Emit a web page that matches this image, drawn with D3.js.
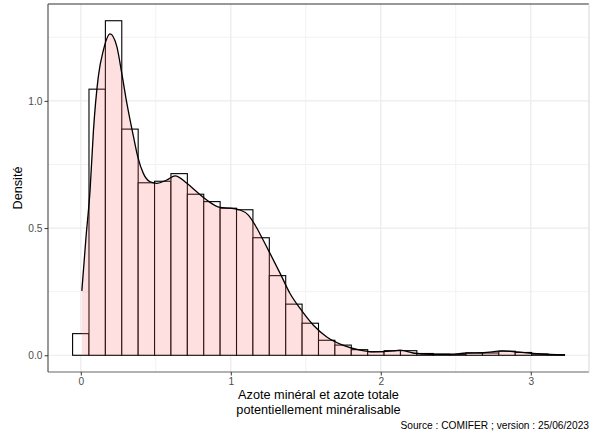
<!DOCTYPE html>
<html>
<head>
<meta charset="utf-8">
<script src="https://cdn.jsdelivr.net/npm/d3@7"></script>
<style>
  body { margin: 0; background: #fff; }
  svg { display: block; font-family: "Liberation Sans", Arial, sans-serif; }
</style>
</head>
<body>
<svg id="chart" width="594" height="435"></svg>
<script>
// histogram: 30 bins, regular width
const binStart = -0.0547;
const binWidth = 0.1093;
const binDensity = [0.085, 1.046, 1.315, 0.889, 0.678, 0.684, 0.714, 0.633, 0.604, 0.578,
                    0.572, 0.462, 0.313, 0.201, 0.126, 0.059, 0.040, 0.022, 0.014, 0.018,
                    0.018, 0.007, 0.004, 0.003, 0.009, 0.009, 0.016, 0.011, 0.005, 0.002];

// density curve
const densX = [0.007, 0.035, 0.062, 0.084, 0.117, 0.151, 0.195, 0.24, 0.273, 0.307,
               0.351, 0.38, 0.417, 0.462, 0.507, 0.573, 0.629, 0.707, 0.773, 0.84,
               0.929, 0.995, 1.062, 1.117, 1.162, 1.207, 1.262, 1.329, 1.395, 1.462,
               1.551, 1.64, 1.751, 1.862, 1.951, 2.084, 2.129, 2.215, 2.329, 2.462,
               2.573, 2.682, 2.815, 2.907, 3.015, 3.129, 3.229];
const densY = [0.253, 0.466, 0.65, 0.88, 1.096, 1.2, 1.263, 1.214, 1.109, 0.991,
               0.86, 0.78, 0.715, 0.682, 0.676, 0.689, 0.705, 0.676, 0.643, 0.61,
               0.581, 0.578, 0.571, 0.551, 0.512, 0.463, 0.4, 0.322, 0.243, 0.184,
               0.118, 0.072, 0.039, 0.02, 0.013, 0.017, 0.02, 0.009, 0.004, 0.004,
               0.009, 0.010, 0.017, 0.013, 0.007, 0.003, 0.001];

const xTicks = [0, 1, 2, 3];
const xMinor = [0.5, 1.5, 2.5];
const yTicks = [0, 0.5, 1.0];
const yMinor = [0.25, 0.75, 1.25];

const xTitle = ["Azote minéral et azote totale", "potentiellement minéralisable"];
const yTitle = "Densité";
const caption = "Source : COMIFER ; version : 25/06/2023";

const svg = d3.select("#chart");
const panel = {left: 48, top: 4, right: 589, bottom: 372};

const bins = binDensity.map((d, i) => ({x0: binStart + i * binWidth, x1: binStart + (i + 1) * binWidth, y: d}));

// ggplot style 5% expansion
const xLo = bins[0].x0, xHi = bins[bins.length - 1].x1;
const xPad = (xHi - xLo) * 0.05;
const yMax = d3.max(binDensity);
const x = d3.scaleLinear().domain([xLo - xPad, xHi + xPad]).range([panel.left, panel.right]);
const y = d3.scaleLinear().domain([-yMax * 0.05, yMax * 1.05]).range([panel.bottom, panel.top]);

const g = svg.append("g");

// grid
g.selectAll(".minx").data(xMinor).enter().append("line")
    .attr("x1", d => x(d)).attr("x2", d => x(d))
    .attr("y1", panel.top).attr("y2", panel.bottom)
    .attr("stroke", "#f2f2f2").attr("stroke-width", 1);
g.selectAll(".miny").data(yMinor).enter().append("line")
    .attr("y1", d => y(d)).attr("y2", d => y(d))
    .attr("x1", panel.left).attr("x2", panel.right)
    .attr("stroke", "#f2f2f2").attr("stroke-width", 1);
g.selectAll(".majx").data(xTicks).enter().append("line")
    .attr("x1", d => x(d)).attr("x2", d => x(d))
    .attr("y1", panel.top).attr("y2", panel.bottom)
    .attr("stroke", "#ebebeb").attr("stroke-width", 1.2);
g.selectAll(".majy").data(yTicks).enter().append("line")
    .attr("y1", d => y(d)).attr("y2", d => y(d))
    .attr("x1", panel.left).attr("x2", panel.right)
    .attr("stroke", "#ebebeb").attr("stroke-width", 1.2);

// histogram bars
g.selectAll(".bar").data(bins).enter().append("rect")
    .attr("x", d => x(d.x0))
    .attr("width", d => x(d.x1) - x(d.x0))
    .attr("y", d => y(d.y))
    .attr("height", d => y(0) - y(d.y))
    .attr("fill", "#fff")
    .attr("stroke", "#000")
    .attr("stroke-width", 1.1);

// density
const pts = densX.map((d, i) => [d, densY[i]]);
const area = d3.area()
    .x(d => x(d[0])).y0(y(0)).y1(d => y(d[1]))
    .curve(d3.curveMonotoneX);
const line = d3.line()
    .x(d => x(d[0])).y(d => y(d[1]))
    .curve(d3.curveMonotoneX);
g.append("path").datum(pts).attr("d", area)
    .attr("fill", "#FF6666").attr("fill-opacity", 0.2);
g.append("path").datum(pts).attr("d", line)
    .attr("fill", "none").attr("stroke", "#000").attr("stroke-width", 1.3);

// panel border
g.append("line").attr("x1", panel.left).attr("x2", panel.right).attr("y1", panel.top).attr("y2", panel.top)
    .attr("stroke", "#333").attr("stroke-width", 1.2);
g.append("line").attr("x1", panel.left).attr("x2", panel.right).attr("y1", panel.bottom).attr("y2", panel.bottom)
    .attr("stroke", "#666").attr("stroke-width", 1.2);
g.append("line").attr("x1", panel.left).attr("x2", panel.left).attr("y1", panel.top).attr("y2", panel.bottom)
    .attr("stroke", "#555").attr("stroke-width", 1.2);
g.append("line").attr("x1", panel.right).attr("x2", panel.right).attr("y1", panel.top).attr("y2", panel.bottom)
    .attr("stroke", "#ddd").attr("stroke-width", 1.2);

// axes
const xAxis = d3.axisBottom(x).tickValues(xTicks).tickFormat(d3.format("d")).tickSize(3.5).tickPadding(2);
const yAxis = d3.axisLeft(y).tickValues(yTicks).tickFormat(d3.format(".1f")).tickSize(3.5).tickPadding(2);

const gx = svg.append("g").attr("transform", `translate(0,${panel.bottom})`).call(xAxis);
const gy = svg.append("g").attr("transform", `translate(${panel.left},0)`).call(yAxis);
[gx, gy].forEach(a => {
    a.select(".domain").remove();
    a.selectAll(".tick line").attr("stroke", "#333");
    a.selectAll(".tick text").attr("fill", "#4d4d4d").style("font-size", "10.2px")
        .style("font-family", "'Liberation Sans', Arial, sans-serif");
});

// titles
svg.append("text")
    .attr("x", (panel.left + panel.right) / 2)
    .attr("text-anchor", "middle")
    .style("font-size", "12.7px").attr("fill", "#000")
    .selectAll("tspan").data(xTitle).enter().append("tspan")
    .attr("x", (panel.left + panel.right) / 2)
    .attr("y", (d, i) => 399 + i * 14.5)
    .text(d => d);

svg.append("text")
    .attr("transform", `translate(22,${(panel.top + panel.bottom) / 2}) rotate(-90)`)
    .attr("text-anchor", "middle")
    .style("font-size", "12.7px").attr("fill", "#000")
    .text(yTitle);

svg.append("text")
    .attr("x", panel.right).attr("y", 429)
    .attr("text-anchor", "end")
    .style("font-size", "10.2px").attr("fill", "#000")
    .text(caption);
</script>
</body>
</html>
